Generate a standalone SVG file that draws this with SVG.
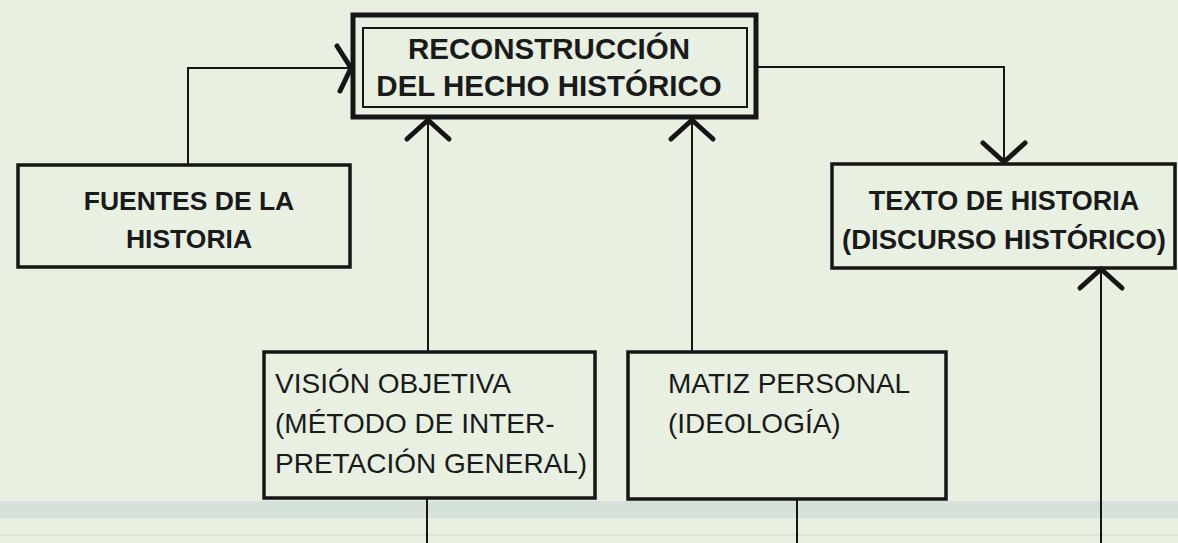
<svg xmlns="http://www.w3.org/2000/svg" width="1178" height="543" viewBox="0 0 1178 543">
<style>
  .box{fill:none;stroke:#161616;stroke-width:3.5}
  .thick{fill:none;stroke:#161616;stroke-width:5}
  .thin{fill:none;stroke:#161616;stroke-width:2}
  .conn{fill:none;stroke:#161616;stroke-width:2}
  .tb{font-family:"Liberation Sans",Arial,sans-serif;font-weight:bold;fill:#1a1a1a}
  .tr{font-family:"Liberation Sans",Arial,sans-serif;fill:#1a1a1a}
</style>
<defs>
  <marker id="ah" markerUnits="userSpaceOnUse" refX="0" refY="0" orient="auto" overflow="visible" markerWidth="1" markerHeight="1">
    <path d="M-19,-21 L0,0 L-19,21" fill="none" stroke="#161616" stroke-width="5" stroke-linecap="round" stroke-linejoin="miter"/>
  </marker>
  <marker id="ahs" markerUnits="userSpaceOnUse" refX="0" refY="0" orient="auto" overflow="visible" markerWidth="1" markerHeight="1">
    <path d="M-14,-22 L0,0 L-11,23" fill="none" stroke="#161616" stroke-width="5" stroke-linecap="round" stroke-linejoin="miter"/>
  </marker>
</defs>
<rect width="1178" height="543" fill="#e8f0e2"/>
<rect x="0" y="501" width="1178" height="17" fill="#cdd8d5" opacity="0.65"/>
<rect x="0" y="534" width="1178" height="2" fill="#d3dcd8" opacity="0.6"/>

<g id="connectors">
  <path class="conn" d="M188,165 V68 H351" marker-end="url(#ahs)"/>
  <path class="conn" d="M757,67 H1004 V162" marker-end="url(#ah)"/>
  <path class="conn" d="M428,352 V120" marker-end="url(#ah)"/>
  <path class="conn" d="M692,352 V120" marker-end="url(#ah)"/>
  <path class="conn" d="M1101,543 V269" marker-end="url(#ah)"/>
  <path class="conn" d="M427,498 V543"/>
  <path class="conn" d="M797,499 V543"/>
</g>

<g id="reconstruccion">
  <rect class="thick" x="353" y="15" width="403" height="102"/>
  <rect class="thin" x="363" y="28" width="384" height="79"/>
  <text class="tb" x="549" y="59" font-size="29.5" text-anchor="middle">RECONSTRUCCIÓN</text>
  <text class="tb" x="549" y="96" font-size="29.5" text-anchor="middle">DEL HECHO HISTÓRICO</text>
</g>

<g id="fuentes">
  <rect class="box" x="18" y="165" width="332" height="102"/>
  <text class="tb" x="189" y="210" font-size="26.5" text-anchor="middle">FUENTES DE LA</text>
  <text class="tb" x="189" y="248" font-size="26.5" text-anchor="middle">HISTORIA</text>
</g>

<g id="texto">
  <rect class="box" x="832" y="164" width="343" height="104"/>
  <text class="tb" x="1004" y="210" font-size="27" text-anchor="middle">TEXTO DE HISTORIA</text>
  <text class="tb" x="1004" y="249" font-size="27.5" text-anchor="middle">(DISCURSO HISTÓRICO)</text>
</g>

<g id="vision">
  <rect class="box" x="264" y="352" width="331" height="146"/>
  <text class="tr" x="275" y="393" font-size="28">VISIÓN OBJETIVA</text>
  <text class="tr" x="275" y="433" font-size="28">(MÉTODO DE INTER-</text>
  <text class="tr" x="275" y="473" font-size="28">PRETACIÓN GENERAL)</text>
</g>

<g id="matiz">
  <rect class="box" x="628" y="352" width="318" height="147"/>
  <text class="tr" x="668" y="393" font-size="28">MATIZ PERSONAL</text>
  <text class="tr" x="668" y="433" font-size="28">(IDEOLOGÍA)</text>
</g>
</svg>
